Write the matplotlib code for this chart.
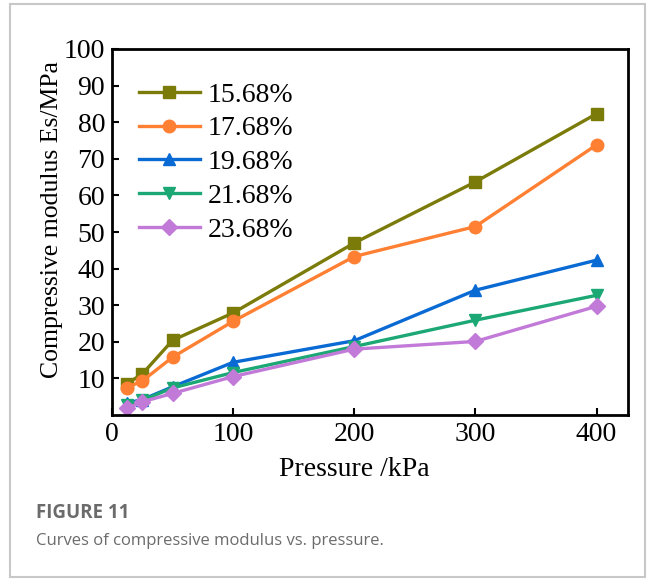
import matplotlib
matplotlib.use("Agg")
import matplotlib.pyplot as plt
from matplotlib.patches import Rectangle

pressure = [12.5, 25, 50, 100, 200, 300, 400]
labels = ["15.68%", "17.68%", "19.68%", "21.68%", "23.68%"]
es_1568 = [8.6, 11.2, 20.4, 27.9, 47.0, 63.7, 82.3]
es_1768 = [7.5, 9.3, 15.8, 25.6, 43.3, 51.5, 73.8]
es_1968 = [3.3, 4.2, 7.7, 14.4, 20.3, 34.1, 42.3]
es_2168 = [2.8, 4.0, 7.4, 11.6, 18.7, 25.9, 32.7]
es_2368 = [1.8, 3.6, 5.9, 10.5, 18.0, 20.1, 29.7]

series = [es_1568, es_1768, es_1968, es_2168, es_2368]
colors = ["#7b7b0a", "#ff8033", "#0a6ad4", "#1ba874", "#c27ad9"]
markers = ["s", "o", "^", "v", "D"]
msizes = [8, 9, 9, 9, 8]

plt.rcParams["font.family"] = ["Liberation Serif", "DejaVu Serif"]

fig = plt.figure(figsize=(6.56, 5.8), dpi=100)
W, H = 656, 580
ax = fig.add_axes([112 / W, 1 - 415 / H, (628 - 112) / W, (415 - 49) / H])

for ys, lab, c, m, ms in zip(series, labels, colors, markers, msizes):
    ax.plot(pressure, ys, color=c, marker=m, markersize=ms, linewidth=2.4, label=lab)

ax.set_xlim(0, 426)
ax.set_ylim(0, 100)
ax.set_xticks([0, 100, 200, 300, 400])
ax.set_yticks(range(10, 101, 10))
ax.tick_params(direction="in", labelsize=20, width=1.5, length=5, pad=5)
for s in ax.spines.values():
    s.set_linewidth(2)
ax.set_xlabel("Pressure /kPa", fontsize=20)
ax.set_ylabel("Compressive modulus Es/MPa", fontsize=18.5)
ax.xaxis.set_label_coords(0.469, -0.115)
ax.yaxis.set_label_coords(-0.095, 0.535)

ax.legend(loc="upper left", frameon=False, fontsize=20, handlelength=2.2,
          handletextpad=0.3, labelspacing=0.3, borderaxespad=0.0,
          bbox_to_anchor=(0.03, 0.94))

# outer frame of the figure panel
fig.patches.append(Rectangle((10 / W, 1 - 577 / H), (645 - 10) / W, (577 - 4) / H,
                             transform=fig.transFigure, fill=False,
                             edgecolor="#c8c8c8", linewidth=1.5))

fig.text(36 / W, 1 - 513 / H, "FIGURE 11", fontsize=13.5, color="#6b6b6b",
         fontweight="bold", family="Open Sans", va="center")
fig.text(36 / W, 1 - 541 / H, "Curves of compressive modulus vs. pressure.",
         fontsize=12, color="#6b6b6b", family="Open Sans", va="center")

fig.savefig("out.png", dpi=100)
